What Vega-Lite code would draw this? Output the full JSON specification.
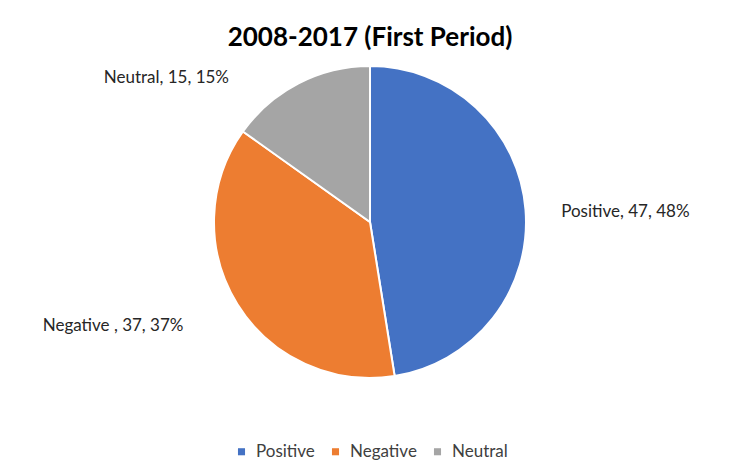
{
  "$schema": "https://vega.github.io/schema/vega-lite/v6.json",
  "width": 740,
  "height": 444,
  "autosize": {"type": "none"},
  "padding": {"left": 0, "top": 0, "right": 11, "bottom": 30},
  "background": "white",
  "title": {"text": "2008-2017 (First Period)", "font": "Lato", "fontSize": 26, "fontWeight": "bold", "color": "#000000", "anchor": "middle", "offset": -51},
  "config": {"view": {"stroke": null}},
  "data": {"values": [
    {"category": "Positive", "value": 47, "idx": 1, "label": "Positive, 47, 48%"},
    {"category": "Negative", "value": 37, "idx": 2, "label": "Negative , 37, 37%"},
    {"category": "Neutral", "value": 15, "idx": 3, "label": "Neutral, 15, 15%"}
  ]},
  "encoding": {
    "theta": {"field": "value", "type": "quantitative", "stack": true},
    "order": {"field": "idx", "type": "quantitative"}
  },
  "layer": [
    {
      "mark": {"type": "arc", "outerRadius": 156, "stroke": "white", "strokeWidth": 2},
      "encoding": {
        "color": {
          "field": "category", "type": "nominal",
          "scale": {"domain": ["Positive", "Negative", "Neutral"], "range": ["#4472C4", "#ED7D31", "#A5A5A5"]},
          "legend": {"orient": "none", "legendX": 233, "legendY": 443, "direction": "horizontal", "title": null, "symbolType": "square", "symbolSize": 50, "symbolStrokeWidth": 0, "labelFont": "Lato", "labelFontSize": 17, "labelColor": "#404040", "columnPadding": 12, "labelOffset": 6}
        }
      }
    },
    {
      "mark": {"type": "text", "radius": 200, "dx": 56, "dy": 6, "font": "Lato", "fontSize": 17, "color": "#262626", "align": "center", "baseline": "middle"},
      "encoding": {"text": {"condition": {"test": "datum.category === 'Positive'", "field": "label"}, "value": ""}}
    },
    {
      "mark": {"type": "text", "radius": 200, "dx": -87, "dy": -1, "font": "Lato", "fontSize": 17, "color": "#262626", "align": "center", "baseline": "middle"},
      "encoding": {"text": {"condition": {"test": "datum.category === 'Negative'", "field": "label"}, "value": ""}}
    },
    {
      "mark": {"type": "text", "radius": 200, "dx": -112, "dy": 34, "font": "Lato", "fontSize": 17, "color": "#262626", "align": "center", "baseline": "middle"},
      "encoding": {"text": {"condition": {"test": "datum.category === 'Neutral'", "field": "label"}, "value": ""}}
    }
  ]
}
